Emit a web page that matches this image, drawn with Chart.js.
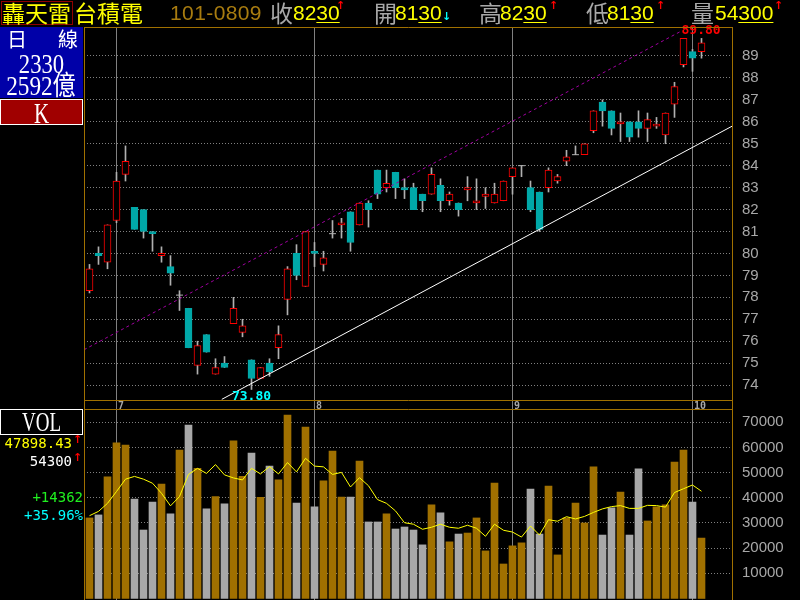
<!DOCTYPE html>
<html>
<head>
<meta charset="utf-8">
<script src="https://cdn.jsdelivr.net/npm/chart.js@4.4.1/dist/chart.umd.min.js"></script>
<style>
  body { margin: 0; background: #000; width: 800px; height: 600px; overflow: hidden; position: relative; }
  canvas { position: absolute; left: 0; }
  .t { position: absolute; white-space: nowrap; line-height: 1; }
  .cjk { font-family: "Noto Sans CJK TC", sans-serif; font-size: 23px; }
  .num { font-family: "Liberation Sans", sans-serif; font-size: 21px; color: #ffff00; }
  .num span { text-decoration: underline; text-underline-offset: 2px; text-decoration-thickness: 1px; }
  .arr { font-family: "DejaVu Sans", sans-serif; font-size: 11px; font-weight: bold; }
  .ser { font-family: "Liberation Serif", "Noto Sans CJK TC", serif; color: #fff; }
  .mono { font-family: "DejaVu Sans Mono", monospace; font-size: 14px; }
</style>
</head>
<body>
<canvas id="price" width="800" height="409" style="top:0"></canvas>
<canvas id="vol" width="800" height="191" style="top:409px"></canvas>

<!-- header -->
<div class="t" style="left:1px;top:1px;width:70px;height:22px;border:1px solid #900000;"></div>
<div class="t cjk" style="left:2px;top:1px;color:#ffff00;">轟天雷</div>
<div class="t cjk" style="left:74px;top:1px;color:#ffff00;">台積電</div>
<div class="t" style="left:170px;top:2px;font-family:'Liberation Sans';font-size:21px;color:#a87c10;letter-spacing:0.4px;">101-0809</div>
<div class="t cjk" style="left:270px;top:1px;color:#a8a8a8;">收</div>
<div class="t num" style="left:293px;top:2px;">82<span>30</span></div>
<div class="t arr" style="left:336px;top:0px;color:#ff0000;">↑</div>
<div class="t cjk" style="left:374px;top:1px;color:#a8a8a8;">開</div>
<div class="t num" style="left:395px;top:2px;">81<span>30</span></div>
<div class="t arr" style="left:442px;top:11px;color:#00ffff;">↓</div>
<div class="t cjk" style="left:479px;top:1px;color:#a8a8a8;">高</div>
<div class="t num" style="left:500px;top:2px;">82<span>30</span></div>
<div class="t arr" style="left:549px;top:0px;color:#ff0000;">↑</div>
<div class="t cjk" style="left:586px;top:1px;color:#a8a8a8;">低</div>
<div class="t num" style="left:607px;top:2px;">81<span>30</span></div>
<div class="t arr" style="left:656px;top:0px;color:#ff0000;">↑</div>
<div class="t cjk" style="left:691px;top:1px;color:#a8a8a8;">量</div>
<div class="t num" style="left:715px;top:2px;">54<span>300</span></div>
<div class="t arr" style="left:774px;top:0px;color:#ff0000;">↑</div>

<!-- left panel -->
<div class="t" style="left:0;top:27px;width:83px;height:71px;background:#0000a8;"></div>
<div class="t cjk" style="left:7px;top:29px;color:#fff;font-size:20px;">日</div>
<div class="t cjk" style="left:58px;top:29px;color:#fff;font-size:20px;">線</div>
<div class="t ser" style="left:0;width:83px;text-align:center;top:51px;font-size:27px;transform:scaleX(0.84);">2330</div>
<div class="t ser" style="left:-4px;width:90px;text-align:center;top:73px;font-size:27px;transform:scaleX(0.86);">2592億</div>
<div class="t" style="left:0;top:99px;width:81px;height:24px;background:#a00000;border:1px solid #fff;"></div>
<div class="t ser" style="left:0;width:83px;text-align:center;top:98px;font-size:30px;transform:scaleX(0.7);">K</div>

<div class="t" style="left:0;top:409px;width:81px;height:24px;border:1px solid #fff;background:#000;"></div>
<div class="t ser" style="left:0;width:83px;text-align:center;top:408px;font-size:28px;transform:scaleX(0.68);">VOL</div>
<div class="t mono" style="right:728px;top:436px;color:#ffff00;">47898.43</div>
<div class="t arr" style="left:73px;top:434px;color:#ff0000;">↑</div>
<div class="t mono" style="right:728px;top:454px;color:#fff;">54300</div>
<div class="t arr" style="left:73px;top:452px;color:#ff0000;">↑</div>
<div class="t mono" style="right:717px;top:490px;color:#20f020;">+14362</div>
<div class="t mono" style="right:717px;top:508px;color:#00ffff;">+35.96%</div>

<script>
// daily candles, index 0..68
const candleOpen = [78.3, 80.0, 79.6, 81.5, 83.6, 82.1, 82.0, 81.0, 79.9, 79.4,
  78.1, 77.5, 74.9, 76.3, 74.5, 75.0, 76.8, 76.4, 75.15, 74.3,
  75.0, 75.7, 77.9, 80.0, 78.5, 80.1, 79.5, 80.9, 81.3, 81.9,
  81.3, 82.3, 83.8, 83.0, 83.7, 83.0, 83.0, 82.7, 82.7, 83.1,
  82.4, 82.3, 82.9, 82.3, 82.6, 82.3, 82.4, 83.5, 84.0, 83.0,
  82.8, 83.0, 83.3, 84.2, 84.5, 84.5, 85.6, 86.9, 86.5, 85.9,
  86.0, 86.0, 85.7, 85.8, 85.4, 86.8, 88.6, 89.2, 89.2];
const candleHigh = [79.5, 80.3, 81.3, 83.7, 84.9, 82.1, 82.0, 81.0, 80.3, 79.9,
  78.3, 77.5, 76.0, 76.3, 75.2, 75.3, 78.0, 77.0, 75.15, 74.8,
  75.2, 76.7, 79.4, 80.4, 81.0, 80.5, 80.1, 81.5, 81.6, 81.9,
  82.3, 82.4, 83.8, 83.8, 83.7, 83.4, 83.2, 82.7, 83.9, 83.4,
  82.8, 82.3, 83.5, 83.4, 83.0, 83.2, 83.3, 83.9, 84.0, 83.3,
  82.8, 83.9, 83.6, 84.7, 84.9, 85.0, 86.5, 87.0, 86.5, 86.4,
  86.0, 86.5, 86.4, 86.2, 86.4, 87.8, 89.8, 89.3, 89.8];
const candleLow = [78.2, 79.5, 79.3, 81.4, 83.3, 81.1, 80.7, 80.1, 79.6, 78.55,
  77.4, 75.7, 74.5, 75.5, 74.5, 74.8, 76.8, 76.2, 73.8, 74.3,
  74.4, 75.2, 77.2, 78.8, 78.5, 79.4, 79.2, 80.7, 80.7, 80.1,
  81.3, 81.2, 82.5, 82.8, 82.5, 82.5, 82.0, 81.9, 82.7, 81.9,
  82.2, 81.7, 82.4, 82.0, 82.05, 82.3, 82.4, 82.7, 83.5, 81.9,
  81.0, 82.8, 83.2, 84.0, 84.5, 84.5, 85.5, 85.8, 85.4, 85.1,
  85.1, 85.3, 85.1, 85.7, 85.0, 86.2, 88.5, 88.3, 88.9];
const candleClose = [79.3, 79.9, 81.3, 83.3, 84.2, 81.1, 81.0, 80.9, 80.0, 79.1,
  78.1, 75.7, 75.8, 75.5, 74.8, 74.8, 77.5, 76.7, 74.3, 74.8,
  74.6, 76.3, 79.3, 79.0, 81.0, 80.0, 79.8, 80.9, 81.4, 80.5,
  82.3, 82.0, 82.7, 83.2, 83.0, 82.9, 82.0, 82.4, 83.6, 82.4,
  82.7, 82.0, 83.0, 82.4, 82.7, 82.7, 83.3, 83.9, 84.0, 82.0,
  81.1, 83.8, 83.5, 84.4, 84.5, 85.0, 86.5, 86.5, 85.7, 86.0,
  85.3, 85.7, 86.1, 85.9, 86.4, 87.6, 89.8, 88.9, 89.6];
const volume = [32000, 33200, 48300, 61800, 61000, 39500, 27200, 38300, 45500, 33600,
  59000, 68900, 51700, 35600, 40500, 37600, 62600, 48500, 57800, 40200,
  52600, 47100, 72900, 37900, 68100, 36400, 46700, 58600, 40300, 40300,
  54600, 30400, 30400, 33600, 27600, 28400, 27200, 21300, 37200, 34000,
  22500, 25600, 26000, 32000, 18900, 45900, 13700, 20900, 22100, 43500,
  25600, 44700, 17300, 32000, 37900, 30000, 52300, 25200, 36000, 42300,
  25200, 51500, 30800, 36400, 37200, 54200, 59000, 38300, 24000];
const volumeAvg = [32900, 34600, 37800, 42500, 47400, 48500, 47400, 45800, 41800, 36800,
  40500, 49300, 51700, 49700, 53200, 49100, 47900, 47100, 51700, 49500,
  52400, 49500, 54000, 50300, 55700, 52600, 52300, 49300, 50100, 44300,
  48000, 44800, 39300, 37800, 34800, 30100, 29500, 27500, 28300, 29500,
  28300, 27900, 29100, 27900, 24700, 29500, 27100, 26400, 24400, 28800,
  25200, 31300, 30700, 32500, 31600, 32600, 34200, 35600, 36500, 36900,
  35800, 35800, 37000, 36900, 36300, 42100, 43600, 45100, 42600];

const monthStart = [3, 25, 47, 67];
const monthLabel = ['7', '8', '9', '10'];
const priceTicks = [74, 75, 76, 77, 78, 79, 80, 81, 82, 83, 84, 85, 86, 87, 88, 89];
const volumeTicks = [10000, 20000, 30000, 40000, 50000, 60000, 70000];

// trend channel, [index, price] at both ends
const supportX = [14.7, 71.4];
const supportY = [73.35, 85.8];
const resistX = [-0.61, 65.6];
const resistY = [75.61, 90.1];

const RED = '#ff0000';
const CYAN = '#00a8a8';
const WICK = '#b0b0b0';
const FRAME = '#a07000';

const X_MIN = -0.611, X_MAX = 71.389;
const idx = candleOpen.map((_, i) => i);

function xScale() {
    return { type: 'linear', display: false, min: X_MIN, max: X_MAX, offset: false };
}

function rightAxis(ticks, min, max) {
    return {
        position: 'right',
        min: min,
        max: max,
        afterBuildTicks: (s) => { s.ticks = ticks.map(v => ({ value: v })); },
        afterFit: (s) => {
            s.width = 68;
            s.paddingTop = 0;
            s.paddingBottom = 0;
        },
        grid: { color: '#808080', lineWidth: 1, drawTicks: false },
        border: { display: false, dash: [1, 2] },
        ticks: {
            color: '#a8a8a8',
            padding: 10,
            font: { family: 'Liberation Sans', size: 15 },
            callback: (v) => String(v)
        }
    };
}

function drawMonthLines(chart, y0, y1) {
    const ctx = chart.ctx;
    const x = chart.scales.x;
    ctx.save();
    ctx.strokeStyle = '#808080';
    ctx.lineWidth = 1;
    monthStart.forEach(m => {
        const px = Math.floor(x.getPixelForValue(m)) + 0.5;
        ctx.beginPath();
        ctx.moveTo(px, y0);
        ctx.lineTo(px, y1);
        ctx.stroke();
    });
    ctx.restore();
}

const priceDecor = {
    id: 'priceDecor',
    beforeDatasetsDraw(chart) {
        drawMonthLines(chart, chart.chartArea.top, chart.height);
    },
    afterDatasetsDraw(chart) {
        const { ctx, scales: { x, y } } = chart;
        const hi = Math.max(...candleHigh);
        const lo = Math.min(...candleLow);
        const hiIdx = candleHigh.indexOf(hi);
        const loIdx = candleLow.indexOf(lo);
        ctx.save();
        ctx.font = 'bold 13px "DejaVu Sans Mono"';
        ctx.fillStyle = RED;
        ctx.textAlign = 'left';
        ctx.textBaseline = 'bottom';
        ctx.fillText(hi.toFixed(2), x.getPixelForValue(hiIdx) - 2, y.getPixelForValue(hi) - 1);
        ctx.fillStyle = '#00ffff';
        ctx.textAlign = 'center';
        ctx.textBaseline = 'top';
        ctx.fillText(lo.toFixed(2), x.getPixelForValue(loIdx), y.getPixelForValue(lo) + 1);
        ctx.restore();
    },
    afterDraw(chart) {
        const { ctx, chartArea: a, scales: { x } } = chart;
        ctx.save();
        ctx.strokeStyle = FRAME;
        ctx.lineWidth = 1;
        ctx.beginPath();
        ctx.moveTo(a.left + 0.5, a.top + 0.5);
        ctx.lineTo(a.right + 0.5, a.top + 0.5);
        ctx.moveTo(a.left + 0.5, a.bottom + 0.5);
        ctx.lineTo(a.right + 0.5, a.bottom + 0.5);
        ctx.moveTo(a.left + 0.5, a.top);
        ctx.lineTo(a.left + 0.5, chart.height);
        ctx.moveTo(a.right + 0.5, a.top);
        ctx.lineTo(a.right + 0.5, chart.height);
        ctx.stroke();
        ctx.font = 'bold 10px "DejaVu Sans Mono"';
        ctx.fillStyle = '#a8a8a8';
        ctx.textBaseline = 'top';
        monthStart.forEach((m, k) => {
            ctx.fillText(monthLabel[k], Math.floor(x.getPixelForValue(m)) + 2, a.bottom + 1);
        });
        ctx.restore();
    }
};

const volDecor = {
    id: 'volDecor',
    beforeDatasetsDraw(chart) {
        drawMonthLines(chart, 0, chart.height);
    },
    afterDraw(chart) {
        const { ctx, chartArea: a } = chart;
        ctx.save();
        ctx.strokeStyle = FRAME;
        ctx.lineWidth = 1;
        ctx.beginPath();
        ctx.moveTo(a.left + 0.5, 0.5);
        ctx.lineTo(a.right + 0.5, 0.5);
        ctx.moveTo(a.left + 0.5, 0);
        ctx.lineTo(a.left + 0.5, chart.height);
        ctx.moveTo(a.right + 0.5, 0);
        ctx.lineTo(a.right + 0.5, chart.height);
        ctx.stroke();
        ctx.restore();
    }
};

const flatIdx = idx.filter(i => candleOpen[i] === candleClose[i]);
const bodyIdx = idx.filter(i => candleOpen[i] !== candleClose[i]);

new Chart(document.getElementById('price'), {
    type: 'bar',
    data: {
        datasets: [
            {
                type: 'line',
                data: supportX.map((v, k) => ({ x: v, y: supportY[k] })),
                borderColor: '#ffffff',
                borderWidth: 1,
                pointRadius: 0,
                order: 1
            },
            {
                type: 'line',
                data: resistX.map((v, k) => ({ x: v, y: resistY[k] })),
                borderColor: '#a000a0',
                borderWidth: 1,
                borderDash: [3, 3],
                pointRadius: 0,
                order: 1
            },
            {
                type: 'scatter',
                data: flatIdx.map(i => ({ x: i, y: candleClose[i] })),
                pointStyle: 'line',
                radius: 3.5,
                borderColor: WICK,
                borderWidth: 1,
                order: 2
            },
            {
                data: bodyIdx.map(i => ({ x: i, y: [candleOpen[i], candleClose[i]] })),
                backgroundColor: (c) => c.raw && c.raw.y[1] > c.raw.y[0] ? '#000000' : CYAN,
                borderColor: (c) => c.raw && c.raw.y[1] > c.raw.y[0] ? RED : CYAN,
                borderWidth: 1,
                borderSkipped: false,
                barThickness: 7,
                grouped: false,
                order: 3
            },
            {
                data: idx.map(i => ({ x: i, y: [candleLow[i], candleHigh[i]] })),
                backgroundColor: WICK,
                barThickness: 1,
                grouped: false,
                order: 4
            }
        ]
    },
    options: {
        responsive: false,
        animation: false,
        devicePixelRatio: 1,
        events: [],
        layout: { padding: { left: 84, top: 27, bottom: 9, right: 0 } },
        scales: {
            x: xScale(),
            y: rightAxis(priceTicks, 73.32, 90.32)
        },
        plugins: { legend: { display: false }, tooltip: { enabled: false } }
    },
    plugins: [priceDecor]
});

new Chart(document.getElementById('vol'), {
    type: 'bar',
    data: {
        datasets: [
            {
                type: 'line',
                data: idx.map(i => ({ x: i, y: volumeAvg[i] })),
                borderColor: '#ffff00',
                borderWidth: 1,
                pointRadius: 0,
                tension: 0,
                order: 1
            },
            {
                data: idx.map(i => ({ x: i, y: volume[i] })),
                backgroundColor: idx.map(i => candleClose[i] >= candleOpen[i] ? '#a07000' : '#a8a8a8'),
                barThickness: 7,
                grouped: false,
                order: 2
            }
        ]
    },
    options: {
        responsive: false,
        animation: false,
        devicePixelRatio: 1,
        events: [],
        layout: { padding: { left: 84, top: 1, bottom: 1, right: 0 } },
        scales: {
            x: xScale(),
            y: rightAxis(volumeTicks, -210, 74890)
        },
        plugins: { legend: { display: false }, tooltip: { enabled: false } }
    },
    plugins: [volDecor]
});
</script>
</body>
</html>
